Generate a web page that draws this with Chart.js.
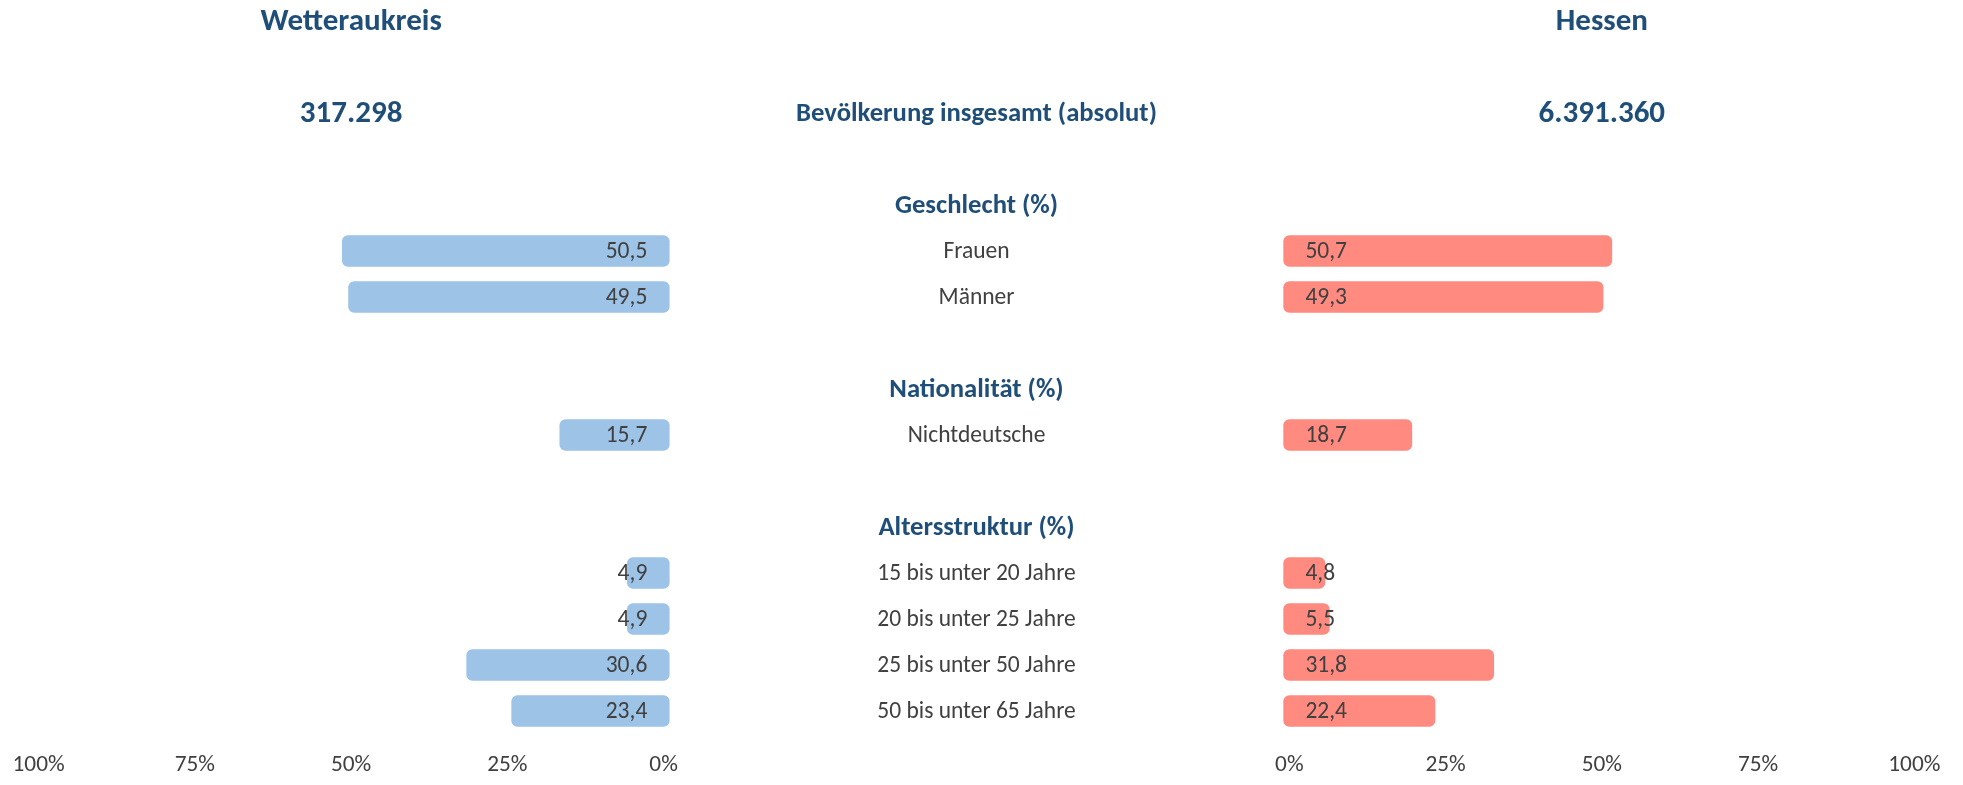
<!DOCTYPE html>
<html lang="de">
<head>
<meta charset="UTF-8">
<title>Wetteraukreis – Hessen</title>
<script src="https://cdn.jsdelivr.net/npm/chart.js"></script>
<style>
  html, body { margin: 0; padding: 0; background: #fff; overflow: hidden; }
  #wrap { position: absolute; left: 0; top: 0; width: 1963px; height: 785px; }
  .pane { position: absolute; left: 0; top: -2px; width: 1963px; height: 797.4px; }
</style>
</head>
<body>
<div id="wrap">
  <div class="pane"><canvas id="leftChart"></canvas></div>
  <div class="pane"><canvas id="rightChart"></canvas></div>
</div>

<script>
const rowLabels = [
  '', '', 'Bevölkerung insgesamt (absolut)', '',
  'Geschlecht (%)', 'Frauen', 'Männer', '',
  'Nationalität (%)', 'Nichtdeutsche', '',
  'Altersstruktur (%)', '15 bis unter 20 Jahre', '20 bis unter 25 Jahre',
  '25 bis unter 50 Jahre', '50 bis unter 65 Jahre'
];
const sectionRows = [2, 4, 8, 11];

const wetterauValues = [null, null, null, null, null, 50.5, 49.5, null, null, 15.7, null, null, 4.9, 4.9, 30.6, 23.4];
const hessenValues   = [null, null, null, null, null, 50.7, 49.3, null, null, 18.7, null, null, 4.8, 5.5, 31.8, 22.4];

const headerRows = [0, 2];
const wetterauHeader = ['Wetteraukreis', '317.298'];
const hessenHeader = ['Hessen', '6.391.360'];

const xTicks = [0, 25, 50, 75, 100];

const DARK_BLUE = '#1F4E79';
const GREY = '#404040';
const LABEL_CENTER = 976.5;   // Mitte der Beschriftungsspalte
const FAMILY = 'Carlito, Calibri, sans-serif';
Chart.defaults.font.family = FAMILY;

function fmt(v) {
  return v.toFixed(1).replace('.', ',');
}

// Werte in den Balken, Überschriften, und (rechts) die Zeilentexte in der Mitte
const sideLabels = {
  id: 'sideLabels',
  afterDatasetsDraw(chart, args, opts) {
    const ctx = chart.ctx;
    const xs = chart.scales.x;
    const ys = chart.scales.y;
    const x0 = xs.getPixelForValue(0);
    const vals = chart.data.datasets[0].data;
    ctx.save();
    ctx.textBaseline = 'middle';

    ctx.fillStyle = GREY;
    ctx.font = '23.5px ' + FAMILY;
    ctx.textAlign = opts.align;
    chart.getDatasetMeta(0).data.forEach((bar, i) => {
      if (vals[i] == null) return;
      ctx.fillText(fmt(vals[i]), x0 + opts.offset, bar.y + 1);
    });

    ctx.fillStyle = DARK_BLUE;
    ctx.font = 'bold 31px ' + FAMILY;
    ctx.textAlign = 'center';
    opts.headers.forEach((t, k) => {
      ctx.fillText(t, xs.getPixelForValue(50), ys.getPixelForValue(headerRows[k]) + 1);
    });

    if (opts.rowText) {
      chart.data.labels.forEach((t, i) => {
        if (!t) return;
        const sec = sectionRows.includes(i);
        ctx.fillStyle = sec ? DARK_BLUE : GREY;
        ctx.font = sec ? 'bold 26.7px ' + FAMILY : '23.5px ' + FAMILY;
        ctx.fillText(t, LABEL_CENTER, ys.getPixelForValue(i) + 1);
      });
    }
    ctx.restore();
  }
};

function makeX(reverse) {
  return {
    type: 'linear',
    min: 0,
    max: 100,
    reverse: reverse,
    afterBuildTicks: s => { s.ticks = xTicks.map(v => ({ value: v })); },
    ticks: {
      padding: 16.7,
      color: GREY,
      font: { size: 23.3 },
      callback: v => v + '%'
    },
    grid: { display: false, drawTicks: false },
    border: { display: false }
  };
}

function barDataset(values, color) {
  return {
    data: values,
    backgroundColor: color,
    barThickness: 19.5,
    inflateAmount: 6,
    borderRadius: 6,
    borderSkipped: false,
    clip: false
  };
}

function makeChart(id, values, color, pad, labelOpts) {
  return new Chart(document.getElementById(id), {
    type: 'bar',
    data: {
      labels: rowLabels,
      datasets: [barDataset(values, color)]
    },
    options: {
      indexAxis: 'y',
      responsive: true,
      maintainAspectRatio: false,
      animation: false,
      layout: { padding: pad },
      plugins: {
        legend: { display: false },
        tooltip: { enabled: false },
        sideLabels: labelOpts
      },
      scales: {
        x: makeX(labelOpts.align === 'right'),
        y: { display: false }
      }
    },
    plugins: [sideLabels]
  });
}

makeChart('leftChart', wetterauValues, '#9DC3E6',
  { left: 38.6, right: 1299.4, top: 0, bottom: 0 },
  { align: 'right', offset: -16.3, headers: wetterauHeader, rowText: false });

makeChart('rightChart', hessenValues, '#FF8A80',
  { left: 1289.3, right: 48.7, top: 0, bottom: 0 },
  { align: 'left', offset: 16.1, headers: hessenHeader, rowText: true });
</script>
</body>
</html>
